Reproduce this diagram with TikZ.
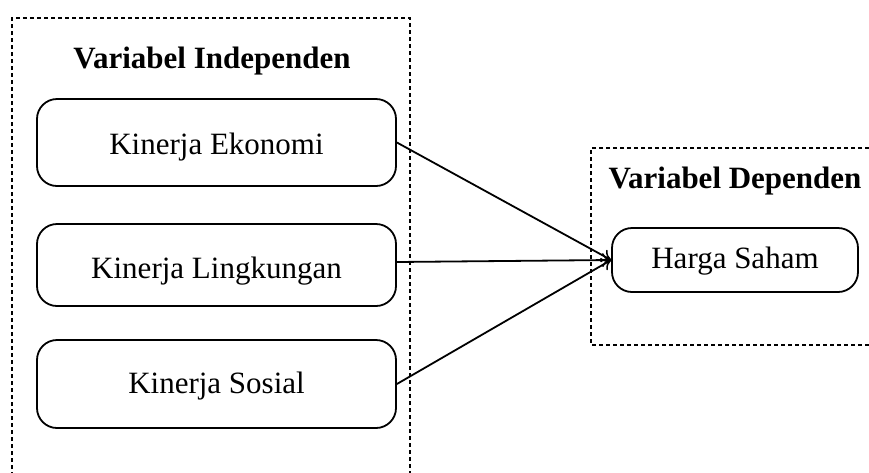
\documentclass[tikz,border=0pt]{standalone}
\usepackage{fontspec}
\setmainfont{Liberation Serif}
\usetikzlibrary{arrows.meta}
\begin{document}
\begin{tikzpicture}[x=1pt,y=-1pt,
  varbox/.style={draw, line width=1.8pt, rounded corners=20pt, minimum width=359pt, font=\fontsize{31}{37}\selectfont, inner sep=0pt, text depth=0pt},
  groupbox/.style={draw, line width=2.2pt, dash pattern=on 4pt off 3pt},
  title/.style={font=\fontsize{31}{37}\selectfont\bfseries},
  conn/.style={line width=1.8pt, -{To[length=9pt,width=14pt,line width=1.5pt]}}]
\useasboundingbox (0,0) rectangle (869,472);
\begin{scope}
\clip (0,0) rectangle (869,472);
\draw[groupbox] (12,490) -- (12,18) -- (410,18) -- (410,490);
\draw[groupbox] (890,148) -- (591,148) -- (591,345) -- (890,345);
\end{scope}
\node[title] (t1) at (212,61) {Variabel Independen};
\node[title] (t2) at (735,181) {Variabel Dependen};
\node[varbox, minimum height=87pt, text height=23pt] (eko) at (216.5,142.5) {Kinerja Ekonomi};
\node[varbox, minimum height=82pt, text height=27pt] (lin) at (216.5,265) {Kinerja Lingkungan};
\node[varbox, minimum height=88pt, text height=19pt] (sos) at (216.5,384) {Kinerja Sosial};
\node[varbox, minimum width=246pt, minimum height=64pt, text height=16pt] (hs) at (735,260) {Harga Saham};
\draw[conn] (eko.east) -- (hs.west);
\draw[conn] ([yshift=3pt]lin.east) -- (hs.west);
\draw[conn] (sos.east) -- (hs.west);
\end{tikzpicture}
\end{document}
